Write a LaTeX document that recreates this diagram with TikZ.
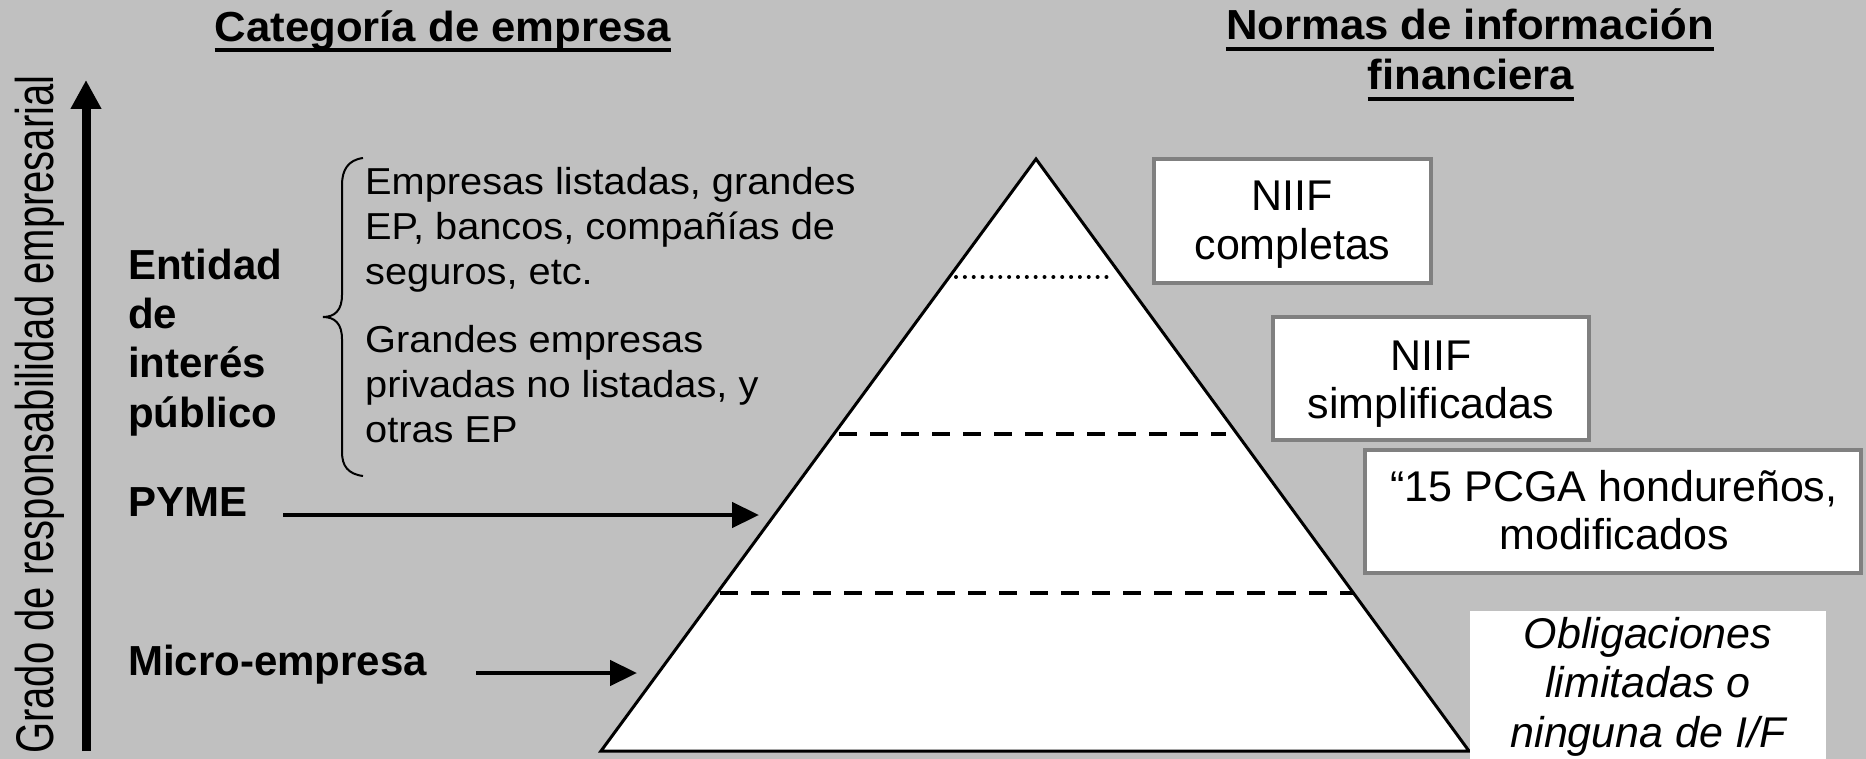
\documentclass[tikz,border=0pt]{standalone}
\usepackage{fontspec}
\setmainfont{Liberation Sans}
\newfontfamily\bodyfont{Liberation Sans}[FakeStretch=1.06]
\newfontfamily\titlefont{Liberation Sans}[FakeStretch=1.04]
\usetikzlibrary{arrows.meta,calc}
\definecolor{bggray}{RGB}{192,192,192}
\definecolor{bordergray}{RGB}{128,128,128}
\begin{document}
\begin{tikzpicture}[x=1pt,y=-1pt,
  lbl/.style={inner sep=0pt, anchor=base west, font=\fontsize{42}{49.3}\selectfont\bfseries, align=left},
  bodytxt/.style={inner sep=0pt, anchor=base west, font=\bodyfont\fontsize{37.5}{45}\selectfont, align=left},
  boxtxt/.style={inner sep=0pt, anchor=base, font=\fontsize{43}{48.5}\selectfont, align=center},
  ttl/.style={inner sep=0pt, anchor=base, font=\titlefont\bfseries\fontsize{42}{50}\selectfont},
  ulined/.style={line width=3.3pt},
  normbox/.style={draw=bordergray, line width=4pt, fill=white, inner sep=0pt},
  conn/.style={line width=4.5pt, -{Triangle[length=27pt,width=25pt]}},
  divider/.style={line width=4pt, dash pattern=on 18pt off 13pt},
]
% background
\fill[bggray] (0,0) rectangle (1866,759);
\useasboundingbox (0,0) rectangle (1866,759);

% titles
\node[ttl] (t1) at (443,42) {Categoría de empresa};
\draw[ulined] ($(t1.base west)+(0,8)$) -- ($(t1.base east)+(0,8)$);
\node[ttl] (t2a) at (1470,40) {Normas de información};
\draw[ulined] ($(t2a.base west)+(0,9)$) -- ($(t2a.base east)+(0,9)$);
\node[ttl] (t2b) at (1471,90) {financiera};
\draw[ulined] ($(t2b.base west)+(0,9)$) -- ($(t2b.base east)+(0,9)$);

% vertical axis
\coordinate (axB) at (86,751);
\coordinate (axT) at (86,80);
\draw[line width=9pt, -{Triangle[length=29pt,width=29pt]}] (axB) -- (axT);
\node[rotate=90, anchor=base, inner sep=0pt, font=\fontsize{53}{60}\selectfont] (axl) at (53,414.5)
  {\scalebox{0.755}[1]{Grado de responsabilidad empresarial}};

% pyramid
\coordinate (apex) at (1036,159);
\coordinate (bl) at (601,751);
\coordinate (br) at (1469,751);
\filldraw[fill=white, draw=black, line width=3pt] (apex) -- (br) -- (bl) -- cycle;
\draw[line width=4pt, line cap=round, dash pattern=on 0pt off 8.85pt] (956,277) -- (1107,277);
\draw[divider] (839,434) -- (1226,434);
\draw[divider] (720,593) -- (1353,593);

% category labels (base = last line)
\node[lbl] (eip) at (128,427) {Entidad\\de\\interés\\público};
\node[lbl] (pyme) at (128,516) {PYME};
\node[lbl] (micro) at (128,675) {Micro-empresa};

% brace
\draw[line width=2pt] (363,158) .. controls (348,160) and (342,170) .. (342,185) -- (342,295)
  .. controls (342,310) and (335,317) .. (323,317)
  .. controls (335,317) and (342,324) .. (342,339) -- (342,452)
  .. controls (342,466) and (348,474) .. (363,476);
\node[bodytxt] (p1) at (365,284.5) {Empresas listadas, grandes\\EP, bancos, compañías de\\seguros, etc.};
\node[bodytxt] (p2) at (365,442.3) {Grandes empresas\\privadas no listadas, y\\otras EP};

% arrows
\coordinate (pymeS) at (283,515);
\coordinate (pymeE) at (759,515);
\draw[conn] (pymeS) -- (pymeE);
\coordinate (microS) at (476,673);
\coordinate (microE) at (637,673);
\draw[conn] (microS) -- (microE);

% standards boxes
\node[normbox, minimum width=277pt, minimum height=124pt] (b1) at (1292.5,221) {};
\node[normbox, minimum width=316pt, minimum height=123pt] (b2) at (1431,378.5) {};
\node[normbox, minimum width=496pt, minimum height=123pt] (b3) at (1613,511.5) {};
\node[fill=white, inner sep=0pt, minimum width=356pt, minimum height=160pt] (b4) at (1648,691) {};
\node[boxtxt] (b1t) at (1292.5,259.2) {NIIF\\completas};
\node[boxtxt] (b2t) at (1431,418.5) {NIIF\\simplificadas};
\node[boxtxt] (b3t) at (1614,549.5) {“15 PCGA hondureños,\\modificados};
\node[boxtxt, font=\fontsize{43}{49.5}\selectfont\itshape] (b4t) at (1648,747) {Obligaciones\\limitadas o\\ninguna de I/F};
\end{tikzpicture}
\end{document}
